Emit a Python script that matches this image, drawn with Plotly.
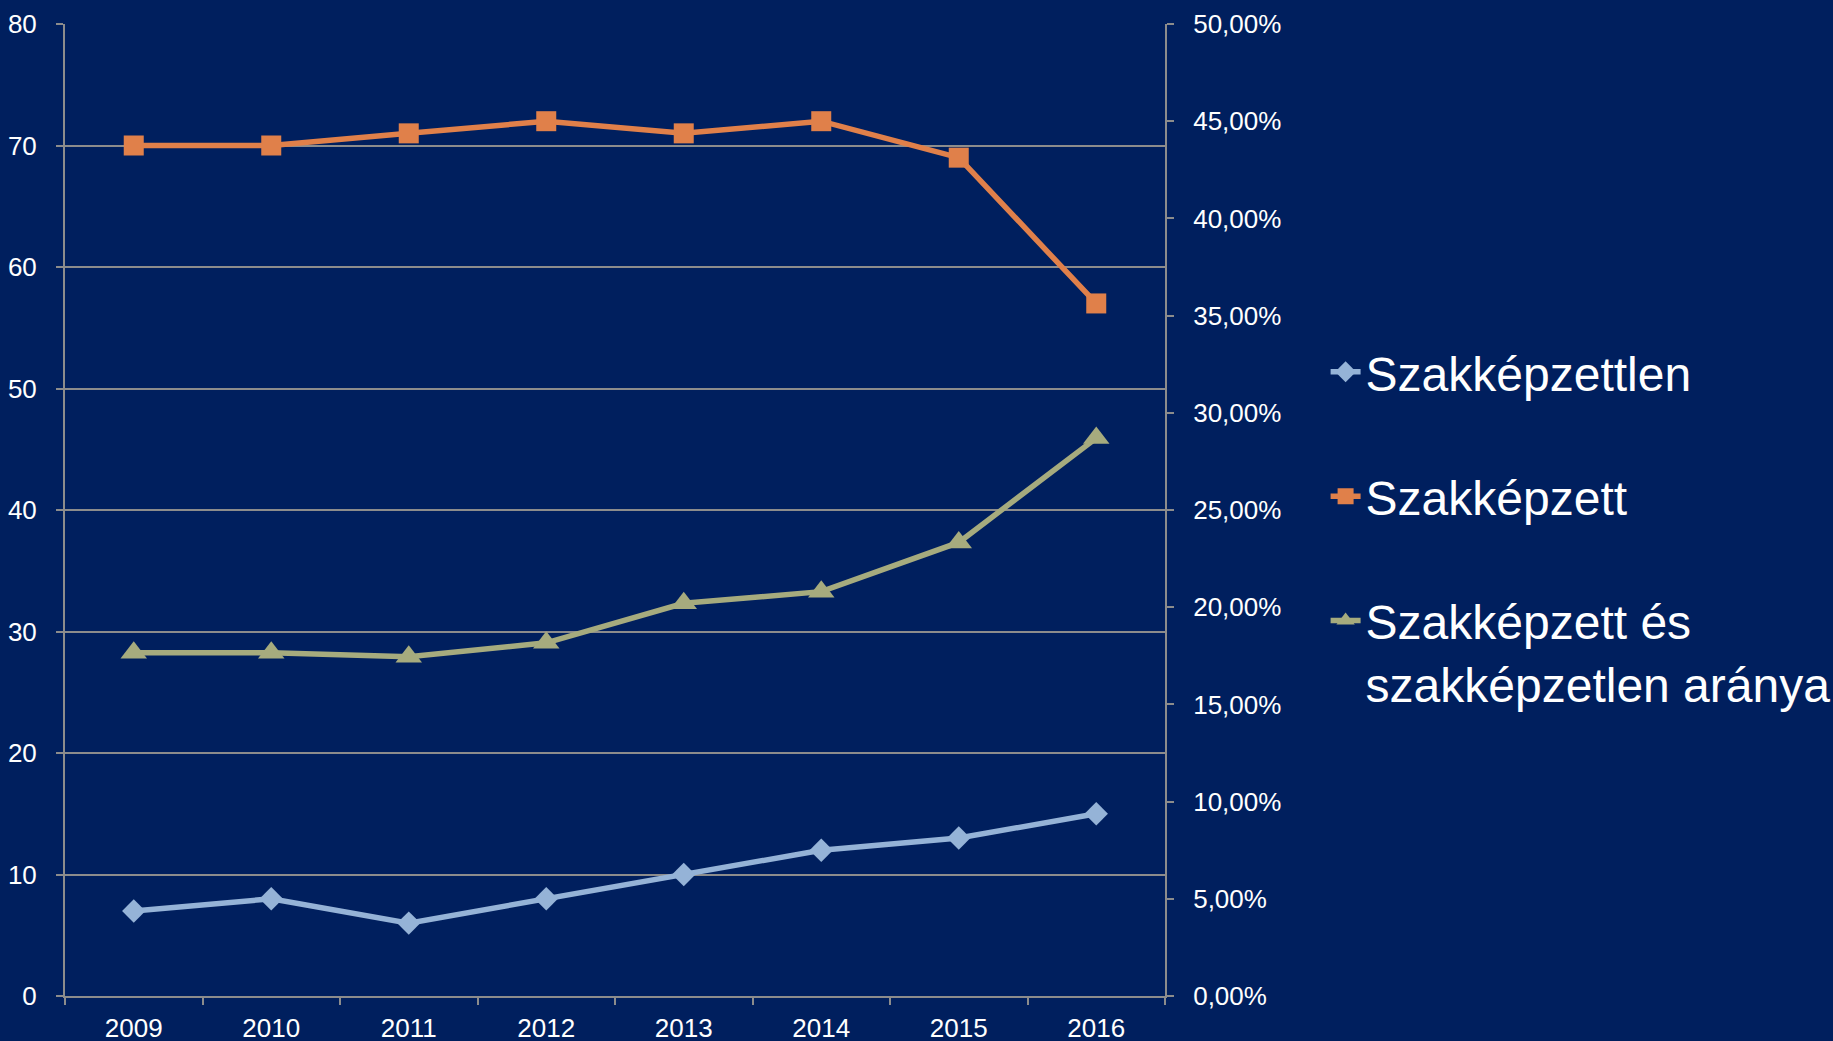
import plotly.graph_objects as go

years = ["2009", "2010", "2011", "2012", "2013", "2014", "2015", "2016"]
szakkepzettlen = [7, 8, 6, 8, 10, 12, 13, 15]
szakkepzett = [70, 70, 71, 72, 71, 72, 69, 57]
arany = [0.1766, 0.1766, 0.1745, 0.1817, 0.2020, 0.2080, 0.2333, 0.2870]

BG = "#001F5E"
GRID = "#8C8C8C"
FONT = "Liberation Sans, Arial, sans-serif"

fig = go.Figure()
fig.add_trace(go.Scatter(
    x=years, y=szakkepzettlen, name="Szakképzettlen", mode="lines+markers",
    line=dict(color="#95B3D7", width=5.5),
    marker=dict(symbol="diamond", size=18, color="#95B3D7"),
    legendgroup="a", yaxis="y"))
fig.add_trace(go.Scatter(
    x=years, y=szakkepzett, name="Szakképzett", mode="lines+markers",
    line=dict(color="#E0804A", width=5.5),
    marker=dict(symbol="square", size=20, color="#E0804A"),
    legendgroup="b", yaxis="y"))
fig.add_trace(go.Scatter(
    x=years, y=arany, name="Szakképzett és<br>szakképzetlen aránya", mode="lines+markers",
    line=dict(color="#A6AB7E", width=5.5),
    marker=dict(symbol="triangle-up", size=23, color="#A6AB7E"),
    legendgroup="c", yaxis="y2"))

fig.update_layout(
    width=1833, height=1041,
    paper_bgcolor=BG, plot_bgcolor=BG,
    margin=dict(l=65, r=668, t=24, b=45, autoexpand=False),
    font=dict(family=FONT, color="white", size=26),
    separators=", ",
    showlegend=True,
    legend=dict(
        x=1.146, xanchor="left", y=0.681, yanchor="top",
        font=dict(size=48, color="white", family=FONT),
        tracegroupgap=59, valign="top",
        bgcolor="rgba(0,0,0,0)",
    ),
    xaxis=dict(
        type="category", showgrid=False, showline=True, linecolor=GRID, linewidth=2,
        ticks="outside", tickson="boundaries", ticklen=7, tickcolor=GRID, tickwidth=2,
        tickfont=dict(size=26, color="white"), zeroline=False,
        range=[-0.5, 7.5], automargin=False, ticklabelstandoff=8,
    ),
    yaxis=dict(
        range=[0, 80], dtick=10, showgrid=True, gridcolor=GRID, gridwidth=2,
        showline=True, linecolor=GRID, linewidth=2,
        ticks="outside", ticklen=7, tickcolor=GRID, tickwidth=2,
        tickfont=dict(size=26, color="white"), zeroline=False,
        ticklabelstandoff=14, automargin=False,
    ),
    yaxis2=dict(
        range=[0, 0.5], dtick=0.05, tickformat=".2%", overlaying="y", side="right",
        showgrid=False, showline=True, linecolor=GRID, linewidth=2,
        ticks="outside", ticklen=7, tickcolor=GRID, tickwidth=2,
        tickfont=dict(size=26, color="white"), zeroline=False,
        ticklabelstandoff=14, automargin=False,
    ),
)

fig.write_html("out.html")
